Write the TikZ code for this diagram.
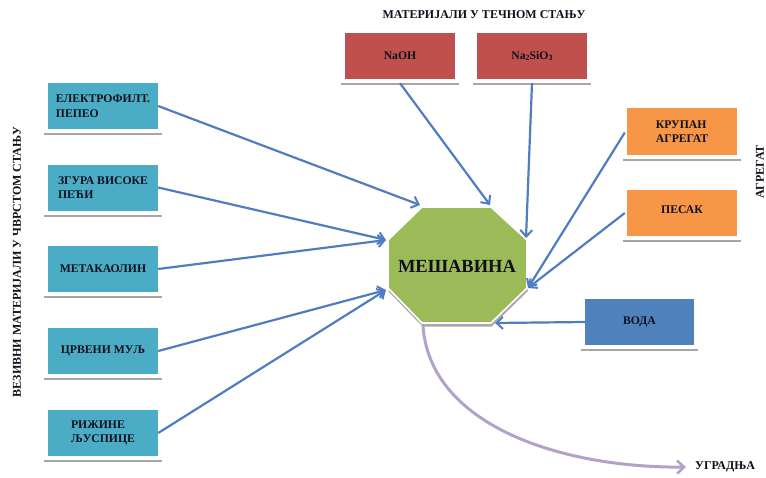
\documentclass[tikz,border=0pt]{standalone}
\usepackage{fontspec}
\setmainfont{Liberation Serif}
\usetikzlibrary{arrows.meta,calc}
\definecolor{cyanbox}{HTML}{4BACC6}
\definecolor{redbox}{HTML}{C0504D}
\definecolor{orangebox}{HTML}{F79646}
\definecolor{bluebox}{HTML}{4F81BD}
\definecolor{greenoct}{HTML}{9BBB59}
\definecolor{arrowblue}{HTML}{4F7DC0}
\definecolor{lavender}{HTML}{B3A2C7}
\definecolor{txt}{HTML}{10101C}
\definecolor{shadowgray}{HTML}{A6A6A6}
\begin{document}
\begin{tikzpicture}[x=1pt,y=-1pt,
  box/.style={minimum width=110pt, minimum height=46pt, inner sep=0pt, align=left,
    font=\bfseries\fontsize{11.7}{14.5}\selectfont, text=txt},
  cbox/.style={box, fill=cyanbox},
  rbox/.style={box, fill=redbox},
  obox/.style={box, fill=orangebox},
  bbox/.style={box, fill=bluebox},
  title/.style={font=\bfseries\fontsize{12}{13}\selectfont, text=txt, inner sep=1pt},
  shline/.style={draw=shadowgray, line width=2pt},
  conn/.style={draw=arrowblue, line width=2.2pt, -{Straight Barb[length=6.5pt,width=12pt,line width=2pt]}},
  outflow/.style={draw=lavender, line width=3pt, -{Straight Barb[length=7pt,width=13pt,line width=2.6pt]}}
]
\useasboundingbox (0,0) rectangle (766,477);

% boxes
\node[cbox] (b1) at (103,106) {ЕЛЕКТРОФИЛТ.\\ПЕПЕО};
\node[cbox] (b2) at (103,187.5) {ЗГУРА ВИСОКЕ\\ПЕЋИ};
\node[cbox] (b3) at (103,269) {МЕТАКАОЛИН};
\node[cbox] (b4) at (103,351) {ЦРВЕНИ МУЉ};
\node[cbox] (b5) at (103,433) {РИЖИНЕ\\ЉУСПИЦЕ};
\node[rbox] (r1) at (400,56) {NaOH};
\node[rbox] (r2) at (532,56) {Na{\fontsize{8}{8}\selectfont\raisebox{-1pt}{2}}SiO{\fontsize{8}{8}\selectfont\raisebox{-1pt}{3}}};
\node[obox, minimum height=47pt] (o1) at (682,131.5) {КРУПАН\\АГРЕГАТ};
\node[obox] (o2) at (682,213) {\raisebox{6pt}{ПЕСАК}};
\node[bbox, minimum width=109pt] (w1) at (639.5,322) {ВОДА};

% shadow lines under boxes
\foreach \n in {b1,b2,b3,b4,b5,r1,r2,o1,o2,w1}{
  \draw[shline] ($(\n.south west)+(-4,5)$) -- ($(\n.south east)+(4,5)$);
}

% titles
\node[title] (tliq) at (484,15) {МАТЕРИЈАЛИ У ТЕЧНОМ СТАЊУ};
\node[title, rotate=90] (tsol) at (17,262) {ВЕЗИВНИ МАТЕРИЈАЛИ У ЧВРСТОМ СТАЊУ};
\node[title, rotate=90] (tagg) at (760,172) {АГРЕГАТ};

% octagon
\fill[shadowgray!70!lavender, shift={(0.5,3.5)}] (422,207) -- (491,207) -- (527,240) -- (527,288) -- (491,323) -- (422,323) -- (388,288) -- (388,240) -- cycle;
\filldraw[fill=greenoct, draw=white, line width=1.6pt] (422,207) -- (491,207) -- (527,240) -- (527,288) -- (491,323) -- (422,323) -- (388,288) -- (388,240) -- cycle;
\node[font=\bfseries\fontsize{18.5}{20}\selectfont, text=txt] (mix) at (457,266) {МЕШАВИНА};

% arrow targets on the octagon
\coordinate (tTL) at (420,205);
\coordinate (tL1) at (386,240);
\coordinate (tL2) at (386,290);
\coordinate (tN) at (490,205);
\coordinate (tS) at (526,238);
\coordinate (tR) at (528,288);
\coordinate (tW) at (495,323);
\coordinate (tB) at (423,326);

% connectors
\draw[conn] (b1.east) -- (tTL);
\draw[conn] (b2.east) -- (tL1);
\draw[conn] (b3.east) -- (tL1);
\draw[conn] (b4.east) -- (tL2);
\draw[conn] (b5.east) -- (tL2);
\draw[conn] ($(r1.south)+(0,4)$) -- (tN);
\draw[conn] ($(r2.south)+(0,4)$) -- (tS);
\draw[conn] ($(o1.west)+(-2,1)$) -- (tR);
\draw[conn] ($(o2.west)+(-2,0)$) -- (tR);
\draw[conn] (w1.west) -- (tW);

% outflow
\node[title, anchor=west] (ugr) at (694,467) {УГРАДЊА};
\draw[outflow, shorten >=8pt] (tB) .. controls (430,425) and (560,468) .. (ugr.west);
\end{tikzpicture}
\end{document}
